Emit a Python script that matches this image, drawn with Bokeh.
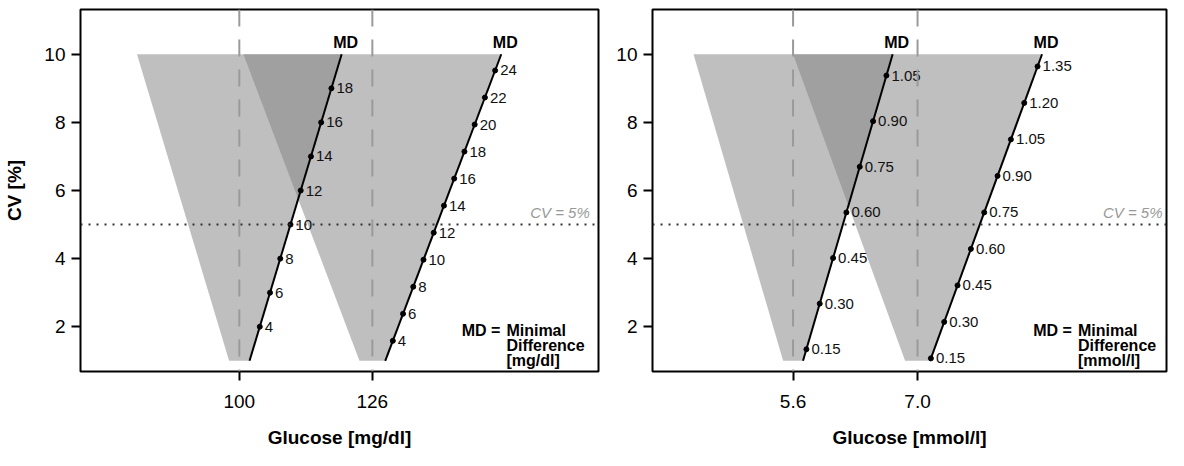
from bokeh.plotting import figure
from bokeh.layouts import row
from bokeh.models import FixedTicker, Span, NumeralTickFormatter
from bokeh.core.properties import value
from bokeh.embed import file_html
from bokeh.resources import INLINE

# ---------------- data ----------------
cv_limits = [1, 10]            # CV range [%] covered by the MD lines / shaded zones
cv_threshold = 5               # dotted reference line "CV = 5%"
y_ticks = [2, 4, 6, 8, 10]
md_factor = 2.0                # MD = md_factor * CV[%] * glucose / 100

glucose_mgdl = [100, 126]
md_mgdl_100 = [4, 6, 8, 10, 12, 14, 16, 18]
md_mgdl_126 = [4, 6, 8, 10, 12, 14, 16, 18, 20, 22, 24]

glucose_mmol = [5.6, 7.0]
md_mmol_56 = [0.15, 0.30, 0.45, 0.60, 0.75, 0.90, 1.05]
md_mmol_70 = [0.15, 0.30, 0.45, 0.60, 0.75, 0.90, 1.05, 1.20, 1.35]

FONT = "Liberation Sans"


def md_at(cv, g):
    return md_factor * cv * g / 100.0


def cv_at(md, g):
    return md * 100.0 / (md_factor * g)


def panel(glucose, md_sets, fmt, x_range, x_title, y_title, width,
          border_left, border_right, cv_label_x, note_x, note_unit, x_formatter=None):
    p = figure(width=width, height=450, x_range=x_range, y_range=(0.686, 11.314),
               min_border_left=border_left, min_border_right=border_right,
               min_border_top=9, min_border_bottom=77,
               output_backend="svg", toolbar_location=None)
    p.grid.visible = False
    p.outline_line_color = "black"
    p.outline_line_width = 2
    p.background_fill_color = "white"
    p.border_fill_color = "white"

    lo, hi = cv_limits
    # shaded zones (semi-transparent so the overlap is darker)
    for g in glucose:
        xs = [g - md_at(lo, g), g + md_at(lo, g), g + md_at(hi, g), g - md_at(hi, g)]
        ys = [lo, lo, hi, hi]
        p.patch(xs, ys, fill_color="#838383", fill_alpha=0.516, line_color=None)

    # reference lines
    for g in glucose:
        p.add_layout(Span(location=g, dimension="height", line_color="#9a9a9a",
                          line_width=2, line_dash="17 13"))
    p.add_layout(Span(location=cv_threshold, dimension="width", line_color="#333333",
                      line_width=2, line_dash="2 6"))

    # MD lines, points, labels
    for g, mds in zip(glucose, md_sets):
        p.line([g + md_at(lo, g), g + md_at(hi, g)], [lo, hi], line_color="black", line_width=2)
        xs = [g + m for m in mds]
        ys = [cv_at(m, g) for m in mds]
        p.scatter(xs, ys, size=5, color="black")
        p.text(xs, ys, text=[fmt(m) for m in mds], x_offset=5,
               text_font=value(FONT), text_font_size="15px", text_color="#111111",
               text_align="left", text_baseline="middle")
        p.text([g + md_at(hi, g)], [hi], text=["MD"], x_offset=4, y_offset=-12,
               text_font=value(FONT), text_font_size="16px", text_font_style="bold",
               text_color="black", text_align="center", text_baseline="middle")

    # CV = 5% label
    p.text([cv_label_x], [cv_threshold], text=["CV = 5%"], y_offset=-4,
           text_font=value(FONT), text_font_size="15px", text_font_style="italic",
           text_color="#999999", text_align="right", text_baseline="bottom")

    # MD = Minimal Difference note
    p.text([note_x], [2.14], text=["Minimal\nDifference\n" + note_unit],
           text_font=value(FONT), text_font_size="16px", text_font_style="bold",
           text_color="black", text_align="left", text_baseline="top",
           text_line_height=0.88)
    p.text([note_x], [2.14], text=["MD ="], x_offset=-6,
           text_font=value(FONT), text_font_size="16px", text_font_style="bold",
           text_color="black", text_align="right", text_baseline="top")

    # axes
    p.xaxis.ticker = FixedTicker(ticks=glucose)
    p.yaxis.ticker = FixedTicker(ticks=y_ticks)
    if x_formatter is not None:
        p.xaxis.formatter = x_formatter
    p.xaxis.axis_label = x_title
    p.yaxis.axis_label = y_title
    for ax in (p.xaxis, p.yaxis):
        ax.axis_line_color = None
        ax.major_tick_line_color = "black"
        ax.major_tick_line_width = 2
        ax.major_tick_in = 0
        ax.major_tick_out = 9
        ax.minor_tick_line_color = None
        ax.major_label_text_font = FONT
        ax.major_label_text_font_size = "19px"
        ax.major_label_text_color = "black"
        ax.axis_label_text_font = FONT
        ax.axis_label_text_font_size = "19px"
        ax.axis_label_text_font_style = "bold"
        ax.axis_label_text_color = "black"
    p.xaxis.major_label_standoff = 14
    p.xaxis.axis_label_standoff = 16
    p.yaxis.major_label_standoff = 6
    p.yaxis.axis_label_standoff = 16
    return p


p1 = panel(glucose_mgdl, [md_mgdl_100, md_mgdl_126], lambda m: f"{m:g}",
           (68.96, 170.2), "Glucose [mg/dl]", "CV [%]", 604, 80, 6,
           168.5, 152.2, "[mg/dl]")
p2 = panel(glucose_mmol, [md_mmol_56, md_mmol_70], lambda m: f"{m:.2f}",
           (4.019, 9.80), "Glucose [mmol/l]", None, 564, 48, 2,
           9.755, 8.804, "[mmol/l]", x_formatter=NumeralTickFormatter(format="0.0"))

layout = row(p1, p2, spacing=0)
open("out.html", "w").write(file_html(layout, INLINE))
